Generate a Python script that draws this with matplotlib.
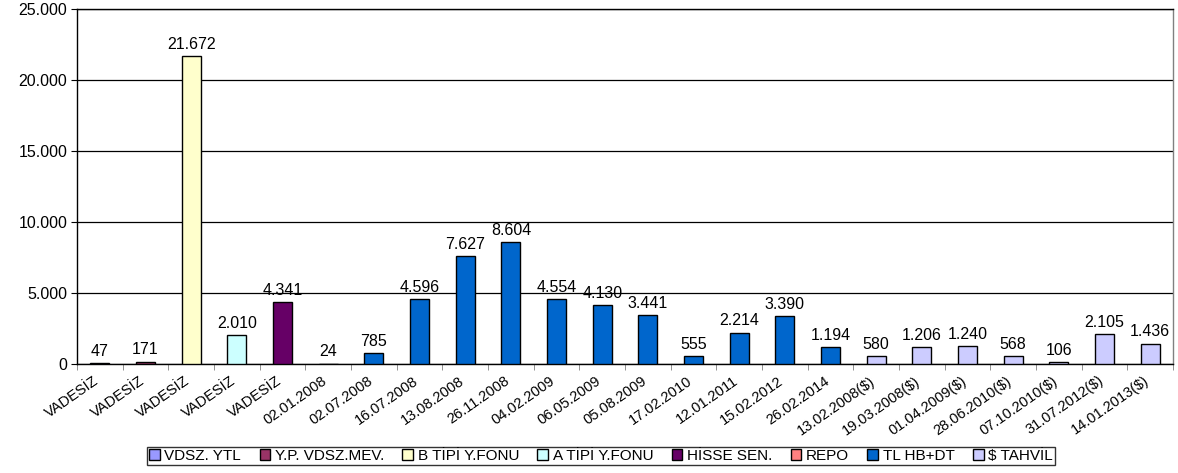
import numpy as np
import matplotlib
matplotlib.use("Agg")
import matplotlib.pyplot as plt
from matplotlib.patches import Patch
from matplotlib.ticker import FuncFormatter

plt.rcParams['font.family'] = ['Liberation Sans', 'DejaVu Sans']

# vade (maturity) labels on the x axis
vadeler = ["VADESİZ", "VADESİZ", "VADESİZ", "VADESİZ", "VADESİZ",
           "02.01.2008", "02.07.2008", "16.07.2008", "13.08.2008", "26.11.2008",
           "04.02.2009", "06.05.2009", "05.08.2009", "17.02.2010", "12.01.2011",
           "15.02.2012", "26.02.2014",
           "13.02.2008($)", "19.03.2008($)", "01.04.2009($)", "28.06.2010($)",
           "07.10.2010($)", "31.07.2012($)", "14.01.2013($)"]
tutarlar = [47, 171, 21672, 2010, 4341,
            24, 785, 4596, 7627, 8604,
            4554, 4130, 3441, 555, 2214,
            3390, 1194,
            580, 1206, 1240, 568,
            106, 2105, 1436]
# which series each bar belongs to
seri_idx = [0, 1, 2, 3, 4,
            5, 6, 6, 6, 6,
            6, 6, 6, 6, 6,
            6, 6,
            7, 7, 7, 7,
            7, 7, 7]
seriler = ["VDSZ. YTL", "Y.P. VDSZ.MEV.", "B TİPİ Y.FONU", "A TİPİ Y.FONU",
           "HİSSE SEN.", "REPO", "TL HB+DT", "$ TAHVİL"]
renkler = ["#9999FF", "#993366", "#FFFFCC", "#CCFFFF",
           "#660066", "#FF8080", "#0066CC", "#CCCCFF"]


def nokta(v, pos=None):
    return "{:,.0f}".format(v).replace(",", ".")


fig = plt.figure(figsize=(11.78, 4.73), dpi=100)
ax = fig.add_axes([0.0654, 0.2305, 0.9304, 0.7505])

x = np.arange(len(vadeler))
bar_renk = [renkler[i] for i in seri_idx]
bars = ax.bar(x, tutarlar, width=0.42, color=bar_renk, edgecolor="black",
              linewidth=1.0, zorder=3)

for xi, v in zip(x, tutarlar):
    ax.annotate(nokta(v), (xi, v), xytext=(0, 3), textcoords="offset points",
                ha="center", va="bottom", fontsize=11.5, zorder=4)

ax.set_xlim(-0.5, len(vadeler) - 0.5)
ax.set_ylim(0, 25000)
ax.set_yticks(np.arange(0, 25001, 5000))
ax.yaxis.set_major_formatter(FuncFormatter(nokta))
ax.grid(axis="y", color="black", linewidth=0.9, zorder=1)

# label ticks sit a little left of the bar centre, like the original
ax.set_xticks(x - 0.15)
ax.set_xticklabels(vadeler, rotation=35, ha="right", va="top",
                   rotation_mode="anchor", fontsize=10.5)
ax.set_xticks(np.arange(-0.5, len(vadeler), 1.0), minor=True)
ax.tick_params(axis="x", which="major", length=0, pad=7)
ax.tick_params(axis="x", which="minor", length=4, color="#808080")
ax.tick_params(axis="y", length=4, labelsize=11.5, pad=3)

for s in ax.spines.values():
    s.set_linewidth(1.0)
    s.set_color("black")
ax.spines["right"].set_color("#808080")

handles = [Patch(facecolor=c, edgecolor="black", linewidth=1.0) for c in renkler]
leg = fig.legend(handles, seriler, loc="center", bbox_to_anchor=(601 / 1178, 1 - 456 / 473),
                 ncol=8, fontsize=11, frameon=True, fancybox=False,
                 handlelength=0.7, handleheight=0.7, handletextpad=0.3,
                 columnspacing=1.2, borderpad=0.15, borderaxespad=0)
leg.get_frame().set_edgecolor("black")
leg.get_frame().set_linewidth(1.0)

fig.savefig("out.png", dpi=100)
